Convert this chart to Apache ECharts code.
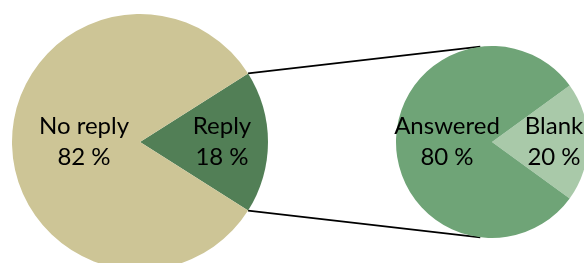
<!DOCTYPE html>
<html>
<head>
<meta charset="utf-8">
<script src="https://cdn.jsdelivr.net/npm/echarts@6/dist/echarts.min.js"></script>
<style>
  html, body { margin: 0; padding: 0; background: #fff; }
  #chart { width: 584px; height: 263px; }
</style>
</head>
<body>
<div id="chart"></div>
<script>
// main pie: reply vs no reply
var mainNames = ['Reply', 'No reply'];
var mainValues = [18, 82];
// second pie: breakdown of replies
var subNames = ['Blank', 'Answered'];
var subValues = [20, 80];

var mainColors = ['#527f56', '#cdc596'];
var subColors = ['#a9c9a9', '#6fa477'];
// label nudges (px, horizontal)
var mainOffsets = [15, 11];
var subOffsets = [11, 6];

var mainC = [140, 142], mainR = 128;
var subC = [492, 142], subR = 96;

function sum(a) { return a.reduce(function (s, v) { return s + v; }, 0); }

function buildData(names, values, colors, offsets) {
    return names.map(function (n, i) {
        return {
            name: n,
            value: values[i],
            itemStyle: { color: colors[i] },
            label: { offset: [offsets[i], 0] }
        };
    });
}

var mainStart = mainValues[0] / sum(mainValues) * 360 / 2;
var subStart = subValues[0] / sum(subValues) * 360 / 2;

// connector lines: from edge of reply slice to top/bottom of second pie
var a = mainStart * Math.PI / 180;
var p1 = [mainC[0] + mainR * Math.cos(a), mainC[1] - mainR * Math.sin(a)];
var p2 = [mainC[0] + mainR * Math.cos(a), mainC[1] + mainR * Math.sin(a)];
var b = 97 * Math.PI / 180;
var q1 = [subC[0] + subR * Math.cos(b), subC[1] - subR * Math.sin(b)];
var q2 = [subC[0] + subR * Math.cos(b), subC[1] + subR * Math.sin(b)];

var labelStyle = {
    show: true,
    position: 'inner',
    formatter: '{b}\n{c} %',
    color: '#000',
    fontFamily: 'Lato',
    fontSize: 24,
    lineHeight: 31
};

var chart = echarts.init(document.getElementById('chart'), null, { renderer: 'canvas' });
chart.setOption({
    animation: false,
    backgroundColor: '#fff',
    series: [{
        type: 'pie',
        center: mainC,
        radius: [0, mainR],
        startAngle: mainStart,
        clockwise: true,
        label: labelStyle,
        labelLine: { show: false },
        emphasis: { disabled: true },
        data: buildData(mainNames, mainValues, mainColors, mainOffsets)
    }, {
        type: 'pie',
        center: subC,
        radius: [0, subR],
        startAngle: subStart,
        clockwise: true,
        label: labelStyle,
        labelLine: { show: false },
        emphasis: { disabled: true },
        data: buildData(subNames, subValues, subColors, subOffsets)
    }],
    graphic: [{
        type: 'line',
        z: -1,
        shape: { x1: p1[0], y1: p1[1], x2: q1[0], y2: q1[1] },
        style: { stroke: '#000', lineWidth: 1.8 }
    }, {
        type: 'line',
        z: -1,
        shape: { x1: p2[0], y1: p2[1], x2: q2[0], y2: q2[1] },
        style: { stroke: '#000', lineWidth: 1.8 }
    }]
});
</script>
</body>
</html>
